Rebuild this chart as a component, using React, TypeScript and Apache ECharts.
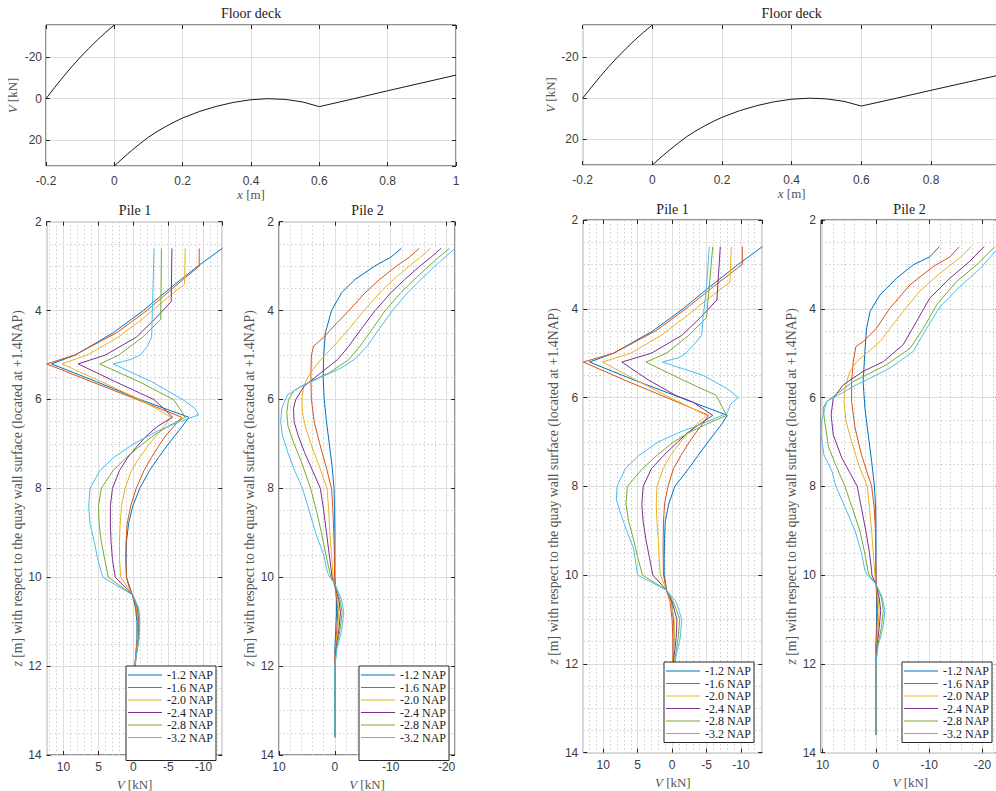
import { useEffect, useRef } from 'react';
import * as echarts from 'echarts';

const SANS = '"Liberation Sans", Arial, Helvetica, sans-serif';
const SERIF = '"Liberation Serif", "Times New Roman", serif';
const TICK_COLOR = '#3c3c3c';
const AXIS_COLOR = '#262626';
const GRID_COLOR = '#dedede';
const MINOR_COLOR = '#cccccc';
const DECK_COLOR = '#1a1a1a';

const LEVEL_NAMES = ['-1.2 NAP', '-1.6 NAP', '-2.0 NAP', '-2.4 NAP', '-2.8 NAP', '-3.2 NAP'];
const LEVEL_COLORS = ['#0072BD', '#D95319', '#EDB120', '#7E2F8E', '#77AC30', '#4DBEEE'];

// ---------- Floor deck (same in both copies) ----------
const deckLeftX = [-0.2, -0.175, -0.15, -0.125, -0.1, -0.075, -0.05, -0.025, 0];
const deckLeftV = [0, -5.3, -10.5, -15.4, -20.0, -24.3, -28.4, -32.2, -35.7];
const deckMainX = [0, 0.025, 0.05, 0.075, 0.1, 0.125, 0.15, 0.175, 0.2, 0.25, 0.3, 0.35, 0.4, 0.45, 0.5, 0.55, 0.6, 0.7, 0.8, 0.9, 1.0];
const deckMainV = [32.7, 28.9, 25.3, 21.9, 18.7, 16.0, 13.6, 11.4, 9.4, 6.2, 3.7, 1.8, 0.55, 0.05, 0.4, 1.6, 3.9, 0.1, -3.8, -7.6, -11.4];
const deckXTicks = { min: -0.2, max: 1.0, interval: 0.2 };
const deckVRange = { min: -35.7, max: 32.7 };

// ---------- Pile data, pairs [z (m), V (kN)] ----------
// Left copy, Pile 1
const p1A_12: [number, number][] = [[2.6,-12.7],[3.0,-9.2],[3.5,-5.2],[4.0,-1.4],[4.5,2.9],[5.0,8.3],[5.2,11.7],[5.6,5.3],[6.0,-0.9],[6.4,-7.9],[6.6,-7.0],[6.8,-6.0],[7.0,-5.0],[7.3,-3.6],[7.6,-2.3],[8.0,-0.9],[8.4,0.1],[8.8,0.7],[9.2,1.0],[9.6,1.05],[10.0,1.0],[10.2,0.65],[10.4,0.15],[10.7,-0.3],[11.0,-0.5],[11.4,-0.5],[11.8,-0.3],[12.2,-0.1],[13.0,0],[13.6,0]];
const p1A_16: [number, number][] = [[2.6,-9.4],[3.0,-9.4],[3.5,-5.6],[4.0,-1.9],[4.5,2.4],[5.0,8.4],[5.2,12.4],[5.6,6.0],[6.0,-0.5],[6.4,-6.9],[6.6,-5.8],[6.8,-4.7],[7.0,-3.8],[7.3,-2.6],[7.6,-1.5],[8.0,-0.4],[8.4,0.4],[8.8,0.9],[9.2,1.05],[9.6,1.1],[10.0,1.0],[10.4,0.15],[10.7,-0.4],[11.0,-0.6],[11.4,-0.55],[11.8,-0.3],[12.2,-0.15],[13.0,0],[13.6,0]];
const p1A_20: [number, number][] = [[2.6,-7.4],[3.4,-7.3],[3.8,-4.2],[4.2,-1.2],[4.6,2.2],[5.0,6.6],[5.2,10.2],[5.6,4.6],[6.0,-0.9],[6.4,-5.4],[6.6,-4.4],[6.8,-3.3],[7.0,-2.3],[7.3,-0.9],[7.6,0.3],[8.0,1.2],[8.4,1.7],[8.8,1.9],[9.2,2.0],[9.6,2.0],[10.0,1.8],[10.4,0.1],[10.7,-0.5],[11.0,-0.7],[11.4,-0.6],[11.8,-0.3],[12.2,-0.1],[13.0,0],[13.6,0]];
const p1A_24: [number, number][] = [[2.6,-5.5],[3.8,-5.4],[4.2,-3.0],[4.6,-0.4],[5.0,4.0],[5.2,7.9],[5.6,2.6],[6.0,-2.9],[6.2,-4.3],[6.4,-5.6],[6.6,-3.5],[6.8,-2.0],[7.0,-0.8],[7.3,0.8],[7.6,2.0],[8.0,3.0],[8.4,3.3],[8.8,3.3],[9.2,3.2],[9.6,3.0],[10.0,2.6],[10.4,0.1],[10.7,-0.6],[11.0,-0.8],[11.4,-0.7],[11.8,-0.35],[12.2,-0.1],[13.0,0],[13.6,0]];
const p1A_28: [number, number][] = [[2.6,-4.0],[4.2,-3.9],[4.6,-1.3],[5.0,2.1],[5.2,4.8],[5.6,-0.8],[6.0,-5.7],[6.2,-6.6],[6.4,-7.4],[6.6,-5.0],[6.8,-3.0],[7.0,-1.3],[7.3,1.0],[7.6,2.9],[8.0,4.6],[8.4,5.0],[8.8,4.9],[9.2,4.6],[9.6,4.1],[10.0,3.6],[10.4,0.1],[10.7,-0.7],[11.0,-0.85],[11.4,-0.75],[11.8,-0.4],[12.2,-0.1],[13.0,0],[13.6,0]];
const p1A_32: [number, number][] = [[2.6,-2.95],[4.6,-2.6],[4.8,-2.0],[5.0,-1.0],[5.1,0.4],[5.2,2.9],[5.6,-2.6],[6.0,-7.0],[6.2,-8.8],[6.35,-9.3],[6.5,-6.6],[6.7,-3.6],[7.0,0.0],[7.3,2.8],[7.6,4.8],[8.0,6.2],[8.4,6.4],[8.8,6.2],[9.2,5.6],[9.6,5.1],[10.0,4.4],[10.4,0.1],[10.7,-0.75],[11.0,-0.9],[11.4,-0.8],[11.8,-0.35],[12.2,-0.1],[13.0,0],[13.6,0]];

// Left copy, Pile 2
const p2A_12: [number, number][] = [[2.6,-11.9],[2.8,-10.0],[3.0,-7.1],[3.3,-3.6],[3.6,-1.2],[4.0,0.6],[4.5,1.7],[5.0,2.0],[5.5,2.1],[6.0,1.9],[6.5,1.5],[7.0,1.0],[7.5,0.5],[8.0,0.15],[8.5,0.05],[9.0,0],[10.0,0],[10.2,-0.1],[10.5,-0.3],[10.8,-0.3],[11.2,-0.15],[11.6,0],[13.6,0]];
const p2A_16: [number, number][] = [[2.6,-15.1],[2.8,-13.3],[3.0,-11.0],[3.3,-8.0],[3.6,-5.4],[4.0,-2.5],[4.3,-0.2],[4.6,2.0],[4.8,3.8],[5.0,4.2],[5.5,4.3],[6.0,4.2],[6.5,3.7],[7.0,2.7],[7.5,1.6],[8.0,0.6],[8.5,0.35],[9.0,0.2],[9.5,0.1],[10.0,0.05],[10.3,-0.2],[10.7,-0.5],[11.0,-0.45],[11.4,-0.2],[11.8,0],[13.6,0]];
const p2A_20: [number, number][] = [[2.6,-17.1],[2.8,-15.3],[3.0,-13.3],[3.3,-10.5],[3.6,-8.0],[4.0,-5.2],[4.4,-2.6],[4.8,0.2],[5.1,2.5],[5.4,4.4],[5.7,5.6],[6.0,5.9],[6.3,5.8],[6.6,5.3],[7.0,4.3],[7.5,2.8],[8.0,1.4],[8.5,1.1],[9.0,0.9],[9.5,0.6],[10.0,0.3],[10.2,0],[10.5,-0.5],[10.8,-0.7],[11.2,-0.5],[11.6,-0.15],[12.0,0],[13.6,0]];
const p2A_24: [number, number][] = [[2.6,-19.0],[2.8,-17.2],[3.0,-15.2],[3.3,-12.5],[3.6,-10.0],[4.0,-7.2],[4.4,-4.8],[4.8,-2.5],[5.1,-0.5],[5.4,2.5],[5.7,5.5],[6.0,7.0],[6.2,7.4],[6.5,7.3],[6.8,6.6],[7.2,5.4],[7.6,4.0],[8.0,2.6],[8.5,2.0],[9.0,1.5],[9.5,1.0],[10.0,0.5],[10.2,0],[10.5,-0.7],[10.8,-1.0],[11.2,-0.7],[11.6,-0.2],[12.0,0],[13.6,0]];
const p2A_28: [number, number][] = [[2.6,-20.5],[2.8,-18.6],[3.0,-16.8],[3.3,-14.2],[3.6,-11.8],[4.0,-9.0],[4.4,-6.8],[4.8,-4.5],[5.1,-2.5],[5.4,1.0],[5.6,4.5],[5.8,7.3],[6.0,8.3],[6.3,8.6],[6.6,8.4],[7.0,7.3],[7.4,6.0],[8.0,4.35],[8.5,3.3],[9.0,2.4],[9.5,1.6],[9.9,0.9],[10.0,0.7],[10.15,0],[10.5,-0.9],[10.8,-1.3],[11.2,-0.9],[11.6,-0.3],[12.0,0],[13.6,0]];
const p2A_32: [number, number][] = [[2.6,-21.5],[2.8,-19.7],[3.0,-17.9],[3.3,-15.4],[3.6,-13.0],[4.0,-10.3],[4.4,-8.0],[4.8,-5.8],[5.1,-3.5],[5.3,-1.0],[5.5,2.5],[5.7,6.0],[5.9,8.5],[6.2,9.5],[6.5,9.7],[6.8,9.4],[7.2,8.4],[7.6,7.2],[8.0,5.8],[8.5,4.6],[9.0,3.45],[9.5,2.0],[9.9,1.3],[10.0,0.9],[10.15,0],[10.5,-1.2],[10.8,-1.6],[11.2,-1.2],[11.6,-0.4],[12.0,0],[13.6,0]];

// Right copy, Pile 1
const p1B_12: [number, number][] = [[2.6,-13.1],[3.0,-9.6],[3.5,-5.5],[4.0,-1.6],[4.5,2.8],[5.0,8.5],[5.2,12.0],[5.6,5.6],[6.0,-1.2],[6.4,-8.0],[6.6,-7.2],[6.8,-6.2],[7.0,-5.2],[7.3,-3.8],[7.6,-2.4],[8.0,-0.4],[8.4,0.5],[8.8,1.0],[9.2,1.1],[9.6,1.15],[10.0,1.15],[10.34,0.8],[10.6,0.1],[11.0,-0.2],[11.4,-0.3],[11.8,-0.2],[12.2,-0.1],[13.0,0],[13.6,0]];
const p1B_16: [number, number][] = [[2.6,-10.2],[3.0,-10.2],[3.5,-6.0],[4.0,-2.0],[4.5,2.4],[5.0,8.5],[5.2,12.9],[5.6,7.0],[6.0,0.8],[6.4,-5.3],[6.6,-4.4],[6.8,-3.4],[7.0,-2.5],[7.3,-1.3],[7.6,-0.2],[8.0,0.6],[8.4,1.1],[8.8,1.25],[9.2,1.3],[9.6,1.3],[10.0,1.25],[10.34,0.8],[10.6,0.3],[11.0,0.0],[11.4,-0.1],[11.8,-0.1],[12.2,0],[13.6,0]];
const p1B_20: [number, number][] = [[2.6,-8.6],[3.4,-8.4],[3.8,-5.0],[4.2,-1.8],[4.6,1.6],[5.0,6.0],[5.2,10.1],[5.6,5.3],[6.0,0.3],[6.4,-5.0],[6.6,-3.6],[6.8,-2.3],[7.0,-1.2],[7.3,0.2],[7.6,1.3],[8.0,2.2],[8.4,2.3],[8.8,2.2],[9.2,2.0],[9.6,1.9],[10.0,1.7],[10.34,0.8],[10.6,0.2],[11.0,-0.3],[11.4,-0.3],[11.8,-0.15],[12.2,0],[13.6,0]];
const p1B_24: [number, number][] = [[2.6,-7.0],[3.8,-6.5],[4.2,-4.1],[4.6,-1.4],[5.0,3.0],[5.2,7.3],[5.6,3.5],[5.95,-0.5],[6.1,-3.0],[6.4,-5.9],[6.6,-4.0],[6.8,-2.2],[7.0,-0.8],[7.3,1.2],[7.6,3.0],[8.0,4.2],[8.4,4.4],[8.8,4.2],[9.2,3.8],[9.6,3.3],[10.0,2.8],[10.34,0.8],[10.6,0.0],[11.0,-0.7],[11.4,-0.6],[11.8,-0.3],[12.2,-0.1],[13.6,0]];
const p1B_28: [number, number][] = [[2.6,-5.9],[4.2,-5.0],[4.6,-2.4],[5.0,0.8],[5.2,3.8],[5.6,-1.5],[5.95,-6.4],[6.4,-7.9],[6.6,-5.0],[6.8,-2.3],[7.0,-0.2],[7.3,2.2],[7.6,4.3],[8.0,6.5],[8.4,6.7],[8.8,6.3],[9.2,5.6],[9.6,5.0],[10.0,4.3],[10.34,0.8],[10.6,-0.2],[11.0,-1.1],[11.4,-0.9],[11.8,-0.5],[12.2,-0.2],[13.6,0]];
const p1B_32: [number, number][] = [[2.6,-5.4],[3.5,-5.0],[4.2,-4.5],[4.6,-4.3],[4.8,-3.2],[5.0,-2.0],[5.1,-1.0],[5.2,1.4],[5.5,-4.5],[5.8,-8.0],[6.0,-9.6],[6.15,-8.5],[6.35,-8.0],[6.6,-4.2],[6.8,-0.8],[7.0,2.0],[7.3,4.8],[7.6,6.8],[8.0,8.0],[8.3,8.1],[8.6,7.5],[9.0,6.6],[9.4,5.6],[9.8,5.2],[10.0,5.0],[10.34,0.8],[10.6,-0.6],[11.0,-1.4],[11.4,-1.2],[11.8,-0.6],[12.2,-0.3],[13.6,0]];

// Right copy, Pile 2
const p2B_12: [number, number][] = [[2.6,-11.9],[2.83,-10.1],[3.01,-7.0],[3.31,-3.9],[3.69,-0.75],[4.06,1.1],[4.44,1.75],[4.96,2.06],[5.64,2.4],[6.24,2.06],[6.84,1.44],[7.44,0.8],[7.97,0.3],[8.5,0.05],[9.0,0],[10.0,0],[10.4,-0.1],[10.8,-0.15],[11.2,-0.1],[11.6,0],[13.6,0]];
const p2B_16: [number, number][] = [[2.6,-15.6],[2.83,-13.9],[3.05,-10.75],[3.46,-6.4],[3.99,-2.6],[4.44,-0.1],[4.74,2.4],[4.85,3.75],[5.19,4.25],[5.64,4.56],[6.09,4.56],[6.69,3.9],[7.29,2.7],[7.89,1.1],[8.0,0.8],[8.5,0.3],[9.0,0.1],[10.0,0],[10.3,-0.15],[10.8,-0.3],[11.2,-0.2],[11.6,0],[13.6,0]];
const p2B_20: [number, number][] = [[2.6,-17.9],[2.85,-15.75],[3.2,-12.0],[3.6,-8.25],[4.06,-5.1],[4.74,-0.75],[5.19,3.6],[5.41,4.9],[5.79,5.8],[6.09,6.0],[6.54,5.6],[6.99,4.56],[7.59,3.0],[8.0,1.6],[8.5,1.2],[9.0,0.8],[9.5,0.5],[10.0,0.2],[10.2,0],[10.5,-0.4],[10.8,-0.6],[11.2,-0.4],[11.6,-0.1],[12.0,0],[13.6,0]];
const p2B_24: [number, number][] = [[2.6,-20.3],[2.93,-17.6],[3.31,-13.9],[3.76,-10.1],[4.29,-7.6],[4.81,-5.1],[5.19,-1.4],[5.41,2.4],[5.71,6.1],[6.01,8.0],[6.39,8.4],[6.84,8.0],[7.36,6.4],[8.0,3.5],[8.5,2.7],[9.0,1.9],[9.5,1.2],[9.9,0.8],[10.0,0.75],[10.2,0],[10.5,-0.6],[10.8,-0.9],[11.2,-0.6],[11.6,-0.2],[12.0,0],[13.6,0]];
const p2B_28: [number, number][] = [[2.6,-22.3],[3.01,-18.9],[3.39,-15.1],[3.91,-11.4],[4.44,-8.9],[4.89,-6.4],[5.26,-2.0],[5.64,4.25],[6.09,9.25],[6.24,9.9],[6.54,9.6],[7.11,8.9],[7.56,7.4],[8.0,5.8],[8.5,4.4],[9.0,3.0],[9.5,2.1],[9.9,1.5],[10.0,1.25],[10.2,0],[10.5,-1.0],[10.8,-1.4],[11.2,-1.0],[11.6,-0.3],[12.0,0],[13.6,0]];
const p2B_32: [number, number][] = [[2.6,-23.2],[3.1,-19.5],[3.5,-15.75],[3.96,-12.0],[4.44,-9.5],[4.96,-7.0],[5.34,-2.6],[5.71,3.6],[6.09,9.25],[6.54,10.2],[6.84,10.3],[7.29,9.75],[7.66,8.25],[8.0,7.5],[8.5,5.7],[9.0,3.9],[9.5,2.7],[9.9,2.06],[10.0,1.6],[10.2,0],[10.5,-1.2],[10.8,-1.7],[11.2,-1.3],[11.6,-0.4],[12.0,0],[13.6,0]];

const pile1Left = [p1A_12, p1A_16, p1A_20, p1A_24, p1A_28, p1A_32];
const pile2Left = [p2A_12, p2A_16, p2A_20, p2A_24, p2A_28, p2A_32];
const pile1Right = [p1B_12, p1B_16, p1B_20, p1B_24, p1B_28, p1B_32];
const pile2Right = [p2B_12, p2B_16, p2B_20, p2B_24, p2B_28, p2B_32];

// Axis ranges (tight limits)
const zRange = { min: 2, max: 14, interval: 2 };
const p1LeftV = { min: -12.7, max: 12.4 };
const p2LeftV = { min: -21.5, max: 10 };
const p1RightV = { min: -13.1, max: 12.9 };
const p2RightV = { min: -23.2, max: 10.3 };

const Z_LABEL = '{it|z} [m] with respect to the quay wall surface (located at +1.4NAP)';
const V_LABEL = '{it|V} [kN]';
const X_LABEL = '{it|x} [m]';

function nameStyle(size: number, color: string) {
  return {
    fontFamily: SERIF, fontSize: size, color,
    rich: { it: { fontFamily: SERIF, fontSize: size, color, fontStyle: 'italic' } },
  };
}

function makeAxis(gridIndex: number, kind: 'x' | 'y', mirror: boolean, o: any) {
  const a: any = {
    type: 'value',
    gridIndex,
    min: o.min,
    max: o.max,
    inverse: !!o.inverse,
    position: kind === 'x' ? (mirror ? 'top' : 'bottom') : (mirror ? 'right' : 'left'),
    axisLine: { show: false, onZero: false },
    axisTick: { show: true, inside: true, length: 4, lineStyle: { color: AXIS_COLOR, width: 1 } },
    axisLabel: mirror
      ? { show: false }
      : {
          show: true, color: TICK_COLOR, fontFamily: SANS, fontSize: 12, margin: o.margin,
          showMinLabel: o.showMin, showMaxLabel: o.showMax,
        },
    splitLine: { show: !mirror, lineStyle: { color: GRID_COLOR, width: 1 } },
    minorTick: { show: false, splitNumber: o.minor || 5 },
    minorSplitLine: { show: !mirror && !!o.minor, lineStyle: { color: MINOR_COLOR, width: 1, type: [1.5, 2.5] } },
    silent: true,
  };
  if (o.interval != null) a.interval = o.interval;
  if (o.splitNumber != null) a.splitNumber = o.splitNumber;
  if (!mirror && o.name) {
    a.name = o.name;
    a.nameLocation = 'middle';
    a.nameGap = o.nameGap;
    a.nameTextStyle = nameStyle(o.nameSize || 13, '#555555');
  }
  return a;
}

export default function App() {
  const ref = useRef<HTMLDivElement>(null);

  useEffect(() => {
    if (!ref.current) return;
    const chart = echarts.init(ref.current, null, { renderer: 'svg' });

    const grids = [
      { left: 46, top: 25, width: 410, height: 141 },
      { left: 46.7, top: 221.7, width: 175.6, height: 533.3 },
      { left: 279, top: 221.7, width: 176, height: 533.3 },
      { left: 582.7, top: 25, width: 418, height: 140 },
      { left: 583.3, top: 220, width: 179, height: 532.7 },
      { left: 821, top: 220, width: 178.6, height: 532.7 },
    ].map((g) => ({
      ...g, show: true, borderColor: AXIS_COLOR, borderWidth: 1, backgroundColor: 'transparent',
      containLabel: false, outerBoundsMode: 'none',
    }));

    const xAxes: any[] = [];
    const yAxes: any[] = [];
    const addPanel = (g: number, xo: any, yo: any) => {
      xAxes.push(makeAxis(g, 'x', false, xo), makeAxis(g, 'x', true, xo));
      yAxes.push(makeAxis(g, 'y', false, yo), makeAxis(g, 'y', true, yo));
    };

    const deckX = (nameGap: number, showMax: boolean) => ({ ...deckXTicks, margin: 9, name: X_LABEL, nameGap, showMin: true, showMax });
    const deckY = { ...deckVRange, inverse: true, splitNumber: 3, showMin: false, showMax: false, margin: 4, name: V_LABEL, nameGap: 27 };
    const pileY = (nameGap: number) => ({ ...zRange, inverse: true, minor: 4, showMin: true, showMax: true, margin: 5, name: Z_LABEL, nameGap, nameSize: 13.8 });
    const pileX = (r: any, split: number, showMax: boolean) => ({
      ...r, inverse: true, splitNumber: split, minor: 5, showMin: false, showMax, margin: 6, name: V_LABEL, nameGap: 19,
    });

    addPanel(0, deckX(18, true), deckY);
    addPanel(1, pileX(p1LeftV, 5, false), pileY(21.5));
    addPanel(2, pileX(p2LeftV, 3, true), pileY(21.5));
    addPanel(3, deckX(19, false), { ...deckY, nameGap: 25 });
    addPanel(4, pileX(p1RightV, 5, false), pileY(23));
    addPanel(5, pileX(p2RightV, 3, false), pileY(23));

    const series: any[] = [];
    const deckSeries = (g: number) => {
      const segs = [
        deckLeftX.map((x, i) => [x, deckLeftV[i]]),
        deckMainX.map((x, i) => [x, deckMainV[i]]),
      ];
      segs.forEach((d, k) =>
        series.push({
          type: 'line', name: 'deck' + g + '_' + k, xAxisIndex: 2 * g, yAxisIndex: 2 * g, data: d,
          symbol: 'none', showSymbol: false, silent: true,
          lineStyle: { color: DECK_COLOR, width: 1 }, itemStyle: { color: DECK_COLOR },
        })
      );
    };
    const pileSeries = (g: number, sets: [number, number][][]) => {
      sets.forEach((pts, i) =>
        series.push({
          type: 'line', name: LEVEL_NAMES[i], xAxisIndex: 2 * g, yAxisIndex: 2 * g,
          data: pts.map(([z, v]) => [v, z]),
          symbol: 'none', showSymbol: false, silent: true, clip: true,
          lineStyle: { color: LEVEL_COLORS[i], width: 1 }, itemStyle: { color: LEVEL_COLORS[i] },
        })
      );
    };
    deckSeries(0);
    pileSeries(1, pile1Left);
    pileSeries(2, pile2Left);
    deckSeries(3);
    pileSeries(4, pile1Right);
    pileSeries(5, pile2Right);

    const legendAt = (left: number, top: number, pad: number[]) => ({
      data: LEVEL_NAMES, orient: 'vertical', left, top,
      icon: 'rect', itemWidth: 34, itemHeight: 1.2, itemGap: 0.5,
      padding: pad, backgroundColor: '#ffffff', borderColor: AXIS_COLOR, borderWidth: 1, borderRadius: 0,
      selectedMode: false,
      textStyle: { fontFamily: SERIF, fontSize: 12, color: '#222222', lineHeight: 12 },
    });

    const titleAt = (text: string, x: number, y: number) => ({
      text, left: x, top: y, textAlign: 'center', textVerticalAlign: 'top', padding: 0,
      textStyle: { fontFamily: SERIF, fontSize: 14, fontWeight: 'normal', color: '#222222' },
    });

    chart.setOption({
      animation: false,
      backgroundColor: '#ffffff',
      title: [
        titleAt('Floor deck', 251, 6.5),
        titleAt('Pile 1', 135, 203),
        titleAt('Pile 2', 367.5, 203),
        titleAt('Floor deck', 791.7, 6.5),
        titleAt('Pile 1', 672.5, 202),
        titleAt('Pile 2', 909.5, 202),
      ],
      grid: grids,
      xAxis: xAxes,
      yAxis: yAxes,
      legend: [
        legendAt(126, 666, [3, 3, 17, 2]),
        legendAt(359, 666, [3, 3, 17, 2]),
        legendAt(664, 662, [3, 3, 3, 2]),
        legendAt(902, 662, [3, 3, 3, 2]),
      ],
      series,
    });

    return () => chart.dispose();
  }, []);

  return (
    <div
      ref={ref}
      style={{ position: 'absolute', left: 0, top: 0, width: 996, height: 791, overflow: 'hidden', background: '#fff' }}
    />
  );
}
